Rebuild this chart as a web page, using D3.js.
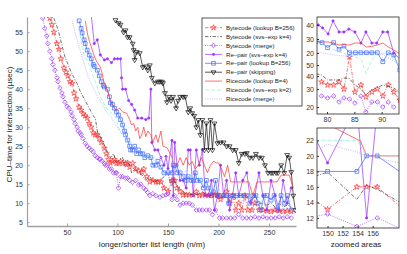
<!DOCTYPE html>
<html>
<head>
<meta charset="utf-8">
<script src="https://cdn.jsdelivr.net/npm/d3@7"></script>
<style>
  body { margin: 0; background: #fff; }
  svg { display: block; font-family: "Liberation Sans", Arial, Helvetica, sans-serif; }
</style>
</head>
<body>
<svg id="chart" width="407" height="254"></svg>
<script>
// ---- tick labels / names ----
const ticksX = [50, 100, 150, 200, 250];
const ticksY = [5, 10, 15, 20, 25, 30, 35, 40, 45, 50, 55];
const zoom1TicksX = [80, 85, 90];
const zoom1TicksUpper = [40, 30, 20];
const zoom1TicksLower = [50, 40, 30, 20];
const zoom2TicksX = [150, 152, 154, 156];
const zoom2TicksY = [12, 14, 16, 18, 20, 22];
const seriesNames = [
  "Bytecode (lookup B=256)", "Bytecode (svs–exp k=4)", "Bytecode (merge)",
  "Re–pair (svs–exp k=4)", "Re–pair (lookup B=256)", "Re–pair (skipping)",
  "Ricecode (lookup B=4)", "Ricecode (svs–exp k=2)", "Ricecode (merge)"
];

// ---- main plot series, [n/m, µsec] ----
const bcLookup = [[33,58.7],[35,57],[37,55],[40,52],[42,50.5],[44,48],[47,45.6],[49,44.5],[51,43.5],[53,42],[55,41.5],[57,39],[59,37.5],[62,35.3],[64,34.5],[66,33.5],[68,33],[70,32.4],[72,31],[74,30],[76,28.5],[78,28],[80,28],[82,27],[84,26],[87,24.5],[89,23],[91,21.5],[93,20.6],[95,21],[97,21.5],[99,20.5],[101,20.5],[103,21],[105,20.5],[108,20.5],[110,20.6],[112,19.5],[115,20.5],[118,19],[121,18.5],[124,18.2],[126,19],[129,17],[132,15.6],[135,16],[138,15.6],[140,15.6],[143,15.6],[146,14],[150,13.1],[153.9,16],[155.2,16],[156.6,16],[159,14],[162,13],[165,12.2],[168,12.2],[171,12.2],[175,12.2],[178,13],[181,12],[184,12.2],[187,12.2],[190,12],[193,12.2],[196,12.2],[199,12.2],[202,11],[205,12],[208,13],[211,10],[214,12],[217,8.2],[220,10],[223,8.2],[226,12],[229,8.2],[233,8.2],[236,10],[240,8.2],[244,8.2],[248,8],[252,7.8],[256,8.2],[260,8],[264,7.8],[268,8],[272,7.8]];
const bcSvs = [[37,58.7],[40,56.5],[42,54.8],[45,51.5],[48,48.5],[51,46.5],[54,44.5],[57,43],[60,41.5],[63,39.5],[65,38.5],[68,37],[71,35.5],[73,34.5],[76,33],[78,32.4],[80,29],[83,27.5],[87,25.3],[90,23.5],[93,22],[96,23],[99,20.8],[102,21.5],[105,22],[108,19.5],[111,20.5],[114,18],[117,19],[120,18],[124,17.5],[128,16],[132,17],[136,15.5],[140,16],[144,16.5],[148,17.4],[150,17.9],[152,15.5],[153.9,14.4],[155.2,16.2],[156.6,15.7],[160,14],[164,13.5],[168,12.2],[172,12.2],[176,12.5],[180,12.2],[184,13],[188,12.2],[192,12],[196,12.2],[200,11],[204,12],[208,12],[212,12],[216,11],[220,12],[224,12],[228,12],[232,10.5],[236,12],[240,10],[244,10],[248,9.5],[252,10],[256,9],[260,10],[264,9],[268,9.5],[272,9]];
const bcMerge = [[26,58.7],[28,56],[30,54],[31,52],[33,50],[35,48],[36,46.5],[38,45],[40,43],[41,42],[43,40.3],[45,39],[46,38],[48,36.6],[50,35.5],[52,35],[54,34],[55,33],[57,32],[58,31],[60,30],[61,29],[63,28.5],[64,28],[66,27],[68,25.8],[70,25],[72,24.5],[74,24],[76,23.5],[78,22.5],[80,22],[82,21.6],[83,21.6],[85,21],[87,20.5],[88,20],[90,20],[92,19],[94,19],[96,18],[98,18],[99,18],[101,14],[103,17],[105,17],[108,16.6],[110,16.6],[112,16],[115,15.5],[118,16],[121,14.8],[123,15],[126,14],[128,13.5],[130,12.8],[132,12],[135,12.5],[138,12],[142,11.6],[145,12],[148,12.2],[150,12.5],[153.9,10.9],[156.6,12],[159,10.9],[162,9.5],[165,10],[168,10],[171,10],[174,9.5],[178,8.2],[181,8.2],[184,8.2],[188,8.2],[191,8.2],[194,7],[197,8.2],[201,6.1],[204,6.1],[208,6.1],[212,6.1],[216,6.1],[220,7],[224,6.1],[228,6.1],[232,6.1],[236,6.4],[240,6.1],[244,6.4],[248,6.1],[252,6.1],[256,6.1],[260,6.4],[264,6.1],[268,6.4],[272,6.1]];
const rpSvs = [[74,59.5],[77,52],[80,53],[83,49],[87,47.7],[90,48],[94,47],[97,48],[100,48],[103,48],[104,43],[105,40],[108,40],[111,37],[114,36],[117,34.5],[120,32.4],[124,32.4],[128,32],[131,32.4],[133,40],[134,26],[137,24],[140,24],[143,22],[146,20],[148,22.3],[150,19.1],[153.9,26.5],[155.2,12],[156.6,26],[159,20],[162,16],[165,16],[168,14],[170,24],[172,24],[175,12],[178,24],[181,20],[184,24],[187,12],[190,12],[193,16],[196,8.2],[199,12],[202,20],[205,12],[208,16],[211,8.2],[214,12],[217,18],[220,12],[224,16],[228,18],[232,10],[236,12],[240,18],[244,12],[248,8.2],[252,16],[256,12],[260,8.2],[264,16],[268,10],[272,14]];
const rpLookup = [[62,58],[64,56],[65,54.8],[67,53],[68,52],[70,50.3],[72,49],[74,48],[76,46.5],[77,46],[80,45],[82,43.5],[84,42],[86,41],[87,40.6],[90,40],[92,38],[93,36.4],[95,36],[97,35],[99,34],[101,33.2],[103,32],[105,30.6],[107,29],[108,28],[110,26.6],[112,25],[113,24],[115,24],[117,25],[119,23],[121,24],[123,23],[125,23],[127,22],[130,22.5],[133,22],[135,20],[138,20],[140,21],[143,19.5],[146,18],[150,18],[153.9,18],[155.2,20],[156.6,20],[159,18],[162,18],[165,17],[168,16],[170,17],[173,16],[175,16],[177,18],[179,16],[182,16],[185,14],[188,16],[190,14],[193,12],[195,13],[197,16],[199,12],[202,12],[205,12],[208,12],[210,10],[212,12],[215,12],[218,12],[222,12],[225,12],[228,12],[231,10],[234,12],[237,12],[239,10],[242,8.2],[245,12],[248,12],[252,10.8],[255,12],[258,8.2],[262,12],[265,10],[268,12],[272,8.2]];
const rpSkip = [[98,58.2],[101,57.4],[103,57],[106,55],[108,55.5],[110,53.7],[112,53.7],[115,52],[116,50.3],[117,47.7],[119,49.8],[122,49.5],[125,45.8],[128,46],[130,45],[132,46.3],[134,43],[137,41.6],[140,42],[142,42],[144,42],[145,41.6],[147,39],[149,36.6],[151,38],[153,37],[155,38],[158,35],[160,37],[162,38],[165,38],[167,38],[170,34],[172,35],[174,33.7],[176,33],[178,30],[180,31.9],[182,28],[184,31.9],[186,24],[188,31],[190,24],[192,31.9],[194,24],[196,31],[199,25.8],[202,26],[205,26],[208,25],[211,25],[214,24],[217,24],[220,20.6],[223,23],[226,23],[228,23.2],[231,22],[234,22],[237,23],[240,22],[243,22],[246,20],[249,18],[252,18],[254,18],[257,18],[259,18],[262,20],[265,18],[268,22.7],[270,22],[272,18.2],[274,12],[276,8.2]];
const rcLookup = [[68,58],[70,55],[71,53.7],[73,52],[76,49.5],[78,48],[80,47],[83,45.8],[85,44],[86,42.4],[88,41],[90,39.5],[93,37],[95,36],[97,35],[99,34.5],[102,35],[105,34],[109,33.7],[112,32],[114,30.6],[116,31],[118,29],[120,30],[122,27],[124,28],[126,30],[128,27.5],[130,29],[133,28],[135,26],[138,28],[140,26],[143,29],[145,25],[149,24.6],[154.4,21.9],[155.2,20],[156.6,20],[159,20],[162,22],[165,20],[168,22],[171,20],[174,21],[177,19],[180,20],[183,22],[186,20],[189,18],[192,20],[195,21],[198,20.6],[200,20.6],[203,19],[206,17],[209,20],[212,15.6],[215,15.6],[218,15.6],[222,15.6],[226,15.6],[230,15.6],[234,12],[238,15.6],[242,15.6],[246,15.6],[250,15.6],[254,15.6],[258,15.6],[262,17.4],[266,17.4],[270,17.4],[274,14]];
const rcSvs = [[62,56],[65,51],[67,49],[70,47.5],[73,45.8],[75,44],[78,42],[80,40.6],[83,38],[86,36.5],[89,35],[92,34],[95,33.5],[98,32.7],[100,31],[101,29.8],[103,28.5],[106,28],[110,27],[113,26],[116,25],[120,24],[124,23],[128,22],[132,22.5],[136,21],[140,22],[144,22],[148,22],[150,22],[153.9,22],[155.2,20],[156.6,20],[160,20],[164,18],[168,18.5],[172,17],[176,16.5],[180,17],[184,15],[188,15],[192,14],[196,13],[200,14],[204,12],[208,13],[212,12],[216,12],[220,11],[224,12],[228,11],[232,12],[236,11],[240,11.6],[244,10],[248,11.6],[252,10],[256,11.6],[260,10],[264,11],[268,11],[272,10.5]];
const rcMerge = [[55,58],[57,56],[58,54.8],[61,52],[63,50.3],[66,47.5],[68,45.8],[71,43.2],[74,41.5],[78,39.3],[80,38],[83,37],[86,35.5],[89,34],[93,33],[96,31.5],[100,30],[104,28.5],[108,27],[112,26],[116,25],[120,24],[125,23],[130,22.5],[135,22],[140,21.5],[145,21],[148,20.4],[150,21.5],[153.9,20.5],[155.2,20],[156.6,19.7],[160,19],[165,18],[170,17],[175,16],[180,15.5],[185,15],[190,14],[195,13],[200,13],[205,12],[210,12],[215,11],[220,11],[225,10.5],[230,10],[235,10],[240,9.5],[245,9.5],[250,9],[255,9],[260,8.5],[265,8.5],[270,8.5],[275,8]];

// ---- zoomed area 1 (upper band / lower band read by their own tick labels) ----
const z1RpSvs = [[78.4,40],[79.2,37.9],[80.2,33.6],[81.1,42.9],[82.2,35],[83.1,35],[84.0,37.1],[85.1,35],[86.2,27.1],[87.1,35],[88.2,27.1],[89.1,27.1],[90.2,35],[91.1,35],[92.2,20],[93.5,15]];
const z1RcLookup = [[78.0,28],[79.2,27.9],[80.2,27.9],[81.2,27.1],[82.2,25.7],[83.1,26],[84.1,25.7],[85.1,27.1],[86.2,27.1],[87.2,24.3],[88.2,24.8],[89.2,25.7],[90.2,27.1],[91.2,24.3],[92.2,22.1],[93.3,19.5]];
const z1RpLookup = [[78.0,28.3],[79.1,27.4],[80.1,23.8],[81.2,27.4],[82.2,22.6],[83.1,25],[84.1,20.2],[85.2,20.2],[86.2,20.2],[87.2,20.2],[88.2,20.2],[89.2,20.2],[90.2,13.8],[91.2,20.2],[92.2,18.6],[93.3,7.9]];
const z1RcSvs = [[78.0,28.1],[81.2,22.6],[83.0,19.8],[85.1,17.4],[86.3,15],[87.1,5.5],[88.2,15],[89.2,19.8],[91.2,19.8],[93.3,10.2]];
const z1RcMerge = [[78.0,20.9],[81.2,18.6],[84.2,17.4],[87.3,19.8],[90.3,18.6],[93.3,11.4]];
const z1BcSvs = [[78.0,42],[79.0,40.9],[80.1,36.9],[81.2,37],[82.2,36.9],[83.1,38.5],[84.1,38],[85.1,33.1],[86.2,30],[87.1,26.7],[88.2,29.4],[89.2,31],[90.2,33.1],[91.2,32],[92.2,30.8],[93.3,28]];
const z1BcLookup = [[79.0,35.4],[80.1,33.1],[81.2,33.1],[82.2,35.4],[83.1,30],[84.1,57.3],[85.1,28.3],[86.2,33.1],[87.1,25.6],[88.2,28.3],[89.2,30],[90.2,26.1],[91.2,33.1],[92.2,28.3],[93.3,23.9]];
const z1BcMerge = [[79.0,26.1],[80.1,25],[81.2,26.1],[82.2,22.8],[83.1,25],[84.1,24.4],[85.1,22.2],[86.2,26.1],[87.1,17.2],[88.2,22.8],[89.2,22.8],[90.2,20],[91.2,22.8],[92.2,20]];

// ---- zoomed area 2 ----
const z2BcLookup = [[147,15.2],[150,13.1],[153.9,16],[155.2,16],[156.6,16],[160,13.2]];
const z2BcSvs = [[146.5,16.8],[150,17.9],[153.9,14.4],[155.2,16.2],[156.6,15.7],[160,13.8]];
const z2BcMerge = [[146.5,11.8],[150,12.5],[153.9,10.9],[156.6,12],[160,10.5]];
const z2RpSvs = [[147,25],[150,19.1],[153.9,26.5],[155.2,12],[156.6,26],[160,28]];
const z2RpLookup = [[146,18],[150,18],[153.9,18],[155.2,20],[156.6,20],[160,17.7]];
const z2RcLookup = [[149,24.6],[154.4,21.9],[155.2,20],[156.6,20],[160,20]];
const z2RcSvs = [[146,22],[150,22],[153.9,22],[155.2,20],[156.6,20],[160,20]];
const z2RcMerge = [[146,19.5],[150,21.5],[153.9,20.5],[155.2,20],[156.6,19.7],[160,19]];

// ---- styles, in legend order ----
const styles = [
  { color: "#ff3030", dash: "3.5,1.5,1,1.5", marker: "star" },
  { color: "#333333", dash: "3.5,1.5,1,1.5", marker: null },
  { color: "#9b30ff", dash: "1,1.3", marker: "diamond" },
  { color: "#9b30ff", dash: null, marker: "dot" },
  { color: "#3a66ff", dash: null, marker: "square" },
  { color: "#111111", dash: null, marker: "tri" },
  { color: "#ff3030", dash: null, marker: null },
  { color: "#7ff0d2", dash: "4,2", marker: null },
  { color: "#a899ff", dash: "1,1.3", marker: null }
];

const svg = d3.select("#chart");
const defs = svg.append("defs");

function markerPath(kind) {
  if (kind === "star") return d3.symbol(d3.symbolStar, 10)();
  if (kind === "square") return d3.symbol(d3.symbolSquare, 14)();
  if (kind === "tri") return d3.symbol(d3.symbolTriangle, 10)();
  if (kind === "diamond") return "M0,-2.3L2.3,0L0,2.3L-2.3,0Z";
  return d3.symbol(d3.symbolCircle, 4)();
}

function drawSeries(g, xs, ys, pts, st) {
  const line = d3.line().x(d => xs(d[0])).y(d => ys(d[1]));
  g.append("path")
    .datum(pts)
    .attr("d", line)
    .attr("fill", "none")
    .attr("stroke", st.color)
    .attr("stroke-width", 0.7)
    .attr("stroke-dasharray", st.dash);
  if (!st.marker) return;
  g.selectAll(null)
    .data(pts)
    .enter().append("path")
    .attr("d", markerPath(st.marker))
    .attr("transform", d => `translate(${xs(d[0])},${ys(d[1])})` + (st.marker === "tri" ? " rotate(180)" : ""))
    .attr("fill", st.marker === "dot" ? st.color : "none")
    .attr("stroke", st.color)
    .attr("stroke-width", 0.7);
}

function clipGroup(id, r) {
  defs.append("clipPath").attr("id", id)
    .append("rect").attr("x", r.left).attr("y", r.top)
    .attr("width", r.right - r.left).attr("height", r.bottom - r.top);
  return svg.append("g").attr("clip-path", `url(#${id})`);
}

function styleAxis(a, lineColor) {
  a.selectAll("line").attr("stroke", lineColor);
  a.selectAll("text").attr("fill", "#333").attr("font-size", 7).attr("font-family", null);
}

// ---- main axes ----
const main = { left: 27, right: 296, top: 17, bottom: 226 };
const x = d3.scaleLinear().domain([10.4, 276.7]).range([main.left, main.right]);
const y = d3.scaleLinear().domain([4, 59]).range([main.bottom, main.top]);

const gx = svg.append("g")
  .attr("transform", `translate(0,${main.bottom})`)
  .call(d3.axisBottom(x).tickValues(ticksX).tickSizeInner(-2.5).tickSizeOuter(0).tickPadding(4));
gx.select(".domain").attr("stroke", "#a0a0a0").attr("stroke-width", 1.5);
styleAxis(gx, "#a0a0a0");

const gy = svg.append("g")
  .attr("transform", `translate(${main.left},0)`)
  .call(d3.axisLeft(y).tickValues(ticksY).tickSizeInner(-2.5).tickSizeOuter(0).tickPadding(4));
gy.select(".domain").attr("stroke", "#a0a0a0").attr("stroke-width", 1.2);
styleAxis(gy, "#a0a0a0");

const mainData = [bcLookup, bcSvs, bcMerge, rpSvs, rpLookup, rpSkip, rcLookup, rcSvs, rcMerge];
const gMain = clipGroup("clipMain", main);
mainData.forEach((pts, i) => drawSeries(gMain, x, y, pts, styles[i]));

svg.append("text")
  .attr("x", 152).attr("y", 247)
  .attr("text-anchor", "middle").attr("font-size", 8).attr("fill", "#222")
  .text("longer/shorter list length (n/m)");
svg.append("text")
  .attr("transform", `translate(9,${(main.top + main.bottom) / 2 + 3}) rotate(-90)`)
  .attr("text-anchor", "middle").attr("dy", "0.35em").attr("font-size", 8).attr("fill", "#222")
  .text("CPU–time for intersection (µsec)");

// ---- legend ----
const leg = svg.append("g").attr("transform", "translate(202,18)");
leg.append("rect").attr("width", 100).attr("height", 88)
  .attr("fill", "#fff").attr("stroke", "#111").attr("stroke-width", 0.7);
const rows = leg.selectAll("g.row").data(seriesNames).enter().append("g")
  .attr("class", "row")
  .attr("transform", (d, i) => `translate(0,${9.7 + i * 8.9})`);
rows.append("line")
  .attr("x1", 3).attr("x2", 20)
  .attr("stroke", (d, i) => styles[i].color)
  .attr("stroke-width", 0.7)
  .attr("stroke-dasharray", (d, i) => styles[i].dash);
rows.filter((d, i) => styles[i].marker).append("path")
  .attr("d", d => markerPath(styles[seriesNames.indexOf(d)].marker))
  .attr("transform", d => "translate(11.5,0)" + (styles[seriesNames.indexOf(d)].marker === "tri" ? " rotate(180)" : ""))
  .attr("fill", d => styles[seriesNames.indexOf(d)].marker === "dot" ? styles[seriesNames.indexOf(d)].color : "none")
  .attr("stroke", d => styles[seriesNames.indexOf(d)].color)
  .attr("stroke-width", 0.7);
rows.append("text")
  .attr("x", 24).attr("dy", "0.35em")
  .attr("font-size", 6.1).attr("fill", "#222")
  .text(d => d);

// ---- zoomed area 1 ----
const z1 = { left: 317, right: 399, top: 17, bottom: 114 };
const z1x = d3.scaleLinear().domain([78.17, 93.16]).range([z1.left, z1.right]);
const z1yUp = d3.scaleLinear().domain([40, 20]).range([z1.top + 8, z1.top + 36]);
const z1yLow = d3.scaleLinear().domain([50, 40, 30, 20]).range([z1.top + 48, z1.top + 59, z1.top + 72, z1.top + 90]);

svg.append("rect").attr("x", z1.left).attr("y", z1.top)
  .attr("width", z1.right - z1.left).attr("height", z1.bottom - z1.top)
  .attr("fill", "#fff");
const gZ1 = clipGroup("clipZ1", z1);
[[z1BcLookup, 0, z1yLow], [z1BcSvs, 1, z1yLow], [z1BcMerge, 2, z1yLow],
 [z1RpSvs, 3, z1yUp], [z1RpLookup, 4, z1yUp], [z1RcLookup, 6, z1yUp],
 [z1RcSvs, 7, z1yUp], [z1RcMerge, 8, z1yUp]]
  .forEach(([pts, i, ys]) => drawSeries(gZ1, z1x, ys, pts, styles[i]));

const z1ax = svg.append("g").attr("transform", `translate(0,${z1.bottom})`)
  .call(d3.axisBottom(z1x).tickValues(zoom1TicksX).tickSizeInner(-2).tickSizeOuter(0).tickPadding(3));
const z1au = svg.append("g").attr("transform", `translate(${z1.left},0)`)
  .call(d3.axisLeft(z1yUp).tickValues(zoom1TicksUpper).tickSizeInner(-2).tickSizeOuter(0).tickPadding(3));
const z1al = svg.append("g").attr("transform", `translate(${z1.left},0)`)
  .call(d3.axisLeft(z1yLow).tickValues(zoom1TicksLower).tickSizeInner(-2).tickSizeOuter(0).tickPadding(3));
[z1ax, z1au, z1al].forEach(a => { a.select(".domain").remove(); styleAxis(a, "#333"); });
svg.append("rect").attr("x", z1.left).attr("y", z1.top)
  .attr("width", z1.right - z1.left).attr("height", z1.bottom - z1.top)
  .attr("fill", "none").attr("stroke", "#262626").attr("stroke-width", 0.8);

// ---- zoomed area 2 ----
const z2 = { left: 317, right: 399, top: 128, bottom: 228 };
const z2x = d3.scaleLinear().domain([148.6, 159.5]).range([z2.left, z2.right]);
const z2y = d3.scaleLinear().domain([10.7, 23.6]).range([z2.bottom, z2.top]);

svg.append("rect").attr("x", z2.left).attr("y", z2.top)
  .attr("width", z2.right - z2.left).attr("height", z2.bottom - z2.top)
  .attr("fill", "#fff");
const gZ2 = clipGroup("clipZ2", z2);
[z2BcLookup, z2BcSvs, z2BcMerge, z2RpSvs, z2RpLookup, null, z2RcLookup, z2RcSvs, z2RcMerge]
  .forEach((pts, i) => { if (pts) drawSeries(gZ2, z2x, z2y, pts, styles[i]); });

const z2ax = svg.append("g").attr("transform", `translate(0,${z2.bottom})`)
  .call(d3.axisBottom(z2x).tickValues(zoom2TicksX).tickSizeInner(-2).tickSizeOuter(0).tickPadding(3));
const z2ay = svg.append("g").attr("transform", `translate(${z2.left},0)`)
  .call(d3.axisLeft(z2y).tickValues(zoom2TicksY).tickSizeInner(-2).tickSizeOuter(0).tickPadding(3));
[z2ax, z2ay].forEach(a => { a.select(".domain").remove(); styleAxis(a, "#333"); });
svg.append("rect").attr("x", z2.left).attr("y", z2.top)
  .attr("width", z2.right - z2.left).attr("height", z2.bottom - z2.top)
  .attr("fill", "none").attr("stroke", "#262626").attr("stroke-width", 0.8);

svg.append("text")
  .attr("x", (z2.left + z2.right) / 2 - 2).attr("y", 247)
  .attr("text-anchor", "middle").attr("font-size", 8).attr("fill", "#222")
  .text("zoomed areas");
</script>
</body>
</html>
